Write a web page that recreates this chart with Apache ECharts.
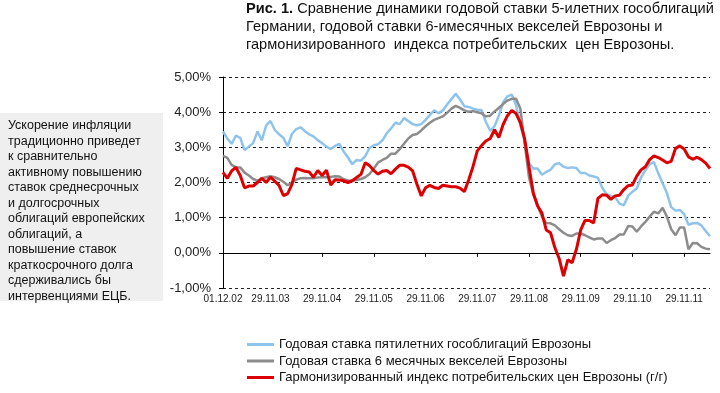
<!DOCTYPE html>
<html><head><meta charset="utf-8">
<script src="https://cdn.jsdelivr.net/npm/echarts@6/dist/echarts.min.js"></script>
<style>html,body{margin:0;padding:0;background:#fff}#c{width:720px;height:393px}</style>
</head><body><div id="c"></div>
<script>
// Tick labels of the x axis and the category index each one sits on
const tickIdx = [0, 11, 23, 35, 47, 59, 71, 83, 95, 107];
const tickLabels = ['01.12.02','29.11.03','29.11.04','29.11.05','29.11.06','29.11.07','29.11.08','29.11.09','29.11.10','29.11.11'];
const yTicks = [-1, 0, 1, 2, 3, 4, 5];

const seriesNames = [
  'Годовая ставка пятилетних гособлигаций Еврозоны',
  'Годовая ставка 6 месячных векселей Еврозоны',
  'Гармонизированный индекс потребительских цен Еврозоны (г/г)'
];

// 5-year government bond yield (light blue)
const bond5y = [3.45,3.25,3.10,3.33,3.27,2.92,3.02,3.12,3.45,3.20,3.62,3.75,3.50,3.37,3.27,3.03,3.38,3.52,3.57,3.46,
3.37,3.31,3.20,3.12,3.02,2.95,3.04,3.10,2.88,2.71,2.52,2.64,2.62,2.75,2.98,3.06,3.09,3.20,3.40,3.54,
3.70,3.66,3.83,3.75,3.66,3.63,3.66,3.78,3.92,4.05,3.97,4.05,4.22,4.37,4.52,4.36,4.17,4.15,4.10,4.07,
4.06,3.72,3.47,3.60,3.90,4.28,4.45,4.50,4.20,3.62,3.20,2.55,2.40,2.40,2.22,2.30,2.36,2.52,2.55,2.45,
2.41,2.43,2.41,2.27,2.27,2.20,2.17,2.13,1.85,1.67,1.62,1.58,1.40,1.35,1.62,1.74,1.83,2.14,2.35,2.52,
2.58,2.26,1.98,1.70,1.30,1.20,1.22,1.10,0.80,0.84,0.85,0.78,0.62,0.47];

// 6-month bills yield (grey)
const bill6m = [2.76,2.70,2.50,2.43,2.43,2.28,2.20,2.10,2.05,2.12,2.15,2.18,2.15,2.10,2.02,1.92,2.00,2.08,2.12,2.13,
2.12,2.12,2.14,2.15,2.15,2.16,2.18,2.17,2.09,2.06,2.05,2.07,2.10,2.15,2.24,2.40,2.57,2.64,2.70,2.82,
2.82,2.95,3.10,3.25,3.35,3.38,3.48,3.60,3.70,3.78,3.83,3.88,3.98,4.10,4.18,4.12,4.05,4.01,4.03,4.00,
3.97,3.88,3.90,4.02,4.12,4.23,4.33,4.38,4.38,4.10,3.10,2.15,1.65,1.35,1.03,0.85,0.84,0.78,0.67,0.57,
0.50,0.48,0.55,0.55,0.50,0.44,0.38,0.41,0.41,0.28,0.36,0.42,0.52,0.52,0.76,0.75,0.60,0.75,0.88,1.03,
1.17,1.12,1.28,1.03,0.67,0.50,0.72,0.72,0.10,0.28,0.27,0.17,0.12,0.10];

// HICP y/y (red)
const hicp = [2.29,2.12,2.33,2.43,2.20,1.85,1.90,1.90,2.00,2.12,2.00,2.15,2.04,1.92,1.63,1.68,1.95,2.40,2.36,2.32,
2.30,2.15,2.34,2.20,2.35,1.93,2.08,2.07,2.05,2.00,2.05,2.14,2.23,2.56,2.48,2.34,2.24,2.32,2.34,2.25,
2.38,2.49,2.49,2.44,2.33,1.95,1.62,1.85,1.92,1.86,1.83,1.92,1.90,1.88,1.88,1.84,1.74,2.07,2.45,2.90,
3.05,3.18,3.25,3.50,3.28,3.65,3.90,4.05,3.96,3.70,3.24,2.45,1.70,1.33,1.13,0.65,0.57,0.15,-0.16,-0.66,
-0.20,-0.28,0.10,0.65,0.92,0.92,0.85,1.55,1.65,1.64,1.52,1.62,1.64,1.80,1.91,1.93,2.18,2.36,2.45,2.65,
2.76,2.71,2.64,2.56,2.60,2.97,3.04,2.95,2.73,2.66,2.72,2.65,2.55,2.40];

const categories = bond5y.map((v, i) => {
  const k = tickIdx.indexOf(i);
  return k >= 0 ? tickLabels[k] : ('m' + i);
});
const showTick = (i) => tickIdx.indexOf(i) >= 0;

const FONT = '"Liberation Sans", Arial, sans-serif';
const sideText = 'Ускорение инфляции\nтрадиционно приведет\nк сравнительно\nактивному повышению\nставок среднесрочных\nи долгосрочных\nоблигаций европейских\nоблигаций, а\nповышение ставок\nкраткосрочного долга\nсдерживались бы\nинтервенциями ЕЦБ.';

const chart = echarts.init(document.getElementById('c'), null, {renderer: 'canvas'});
chart.setOption({
  animation: false,
  backgroundColor: '#ffffff',
  textStyle: {fontFamily: FONT},
  title: {
    left: 246, top: 0, padding: 0,
    text: '{b|Рис. 1.} Сравнение динамики годовой ставки 5-илетних гособлигаций\nГермании, годовой ставки 6-имесячных векселей Еврозоны и\nгармонизированного  индекса потребительских  цен Еврозоны.',
    textStyle: {
      fontFamily: FONT, fontSize: 14.6, fontWeight: 'normal', color: '#111', lineHeight: 18,
      rich: {b: {fontFamily: FONT, fontSize: 14.6, fontWeight: 'bold', color: '#111', lineHeight: 18}}
    }
  },
  graphic: [
    {type: 'rect', left: 0, top: 113, shape: {width: 163, height: 188}, style: {fill: '#efefef'}, z: 0},
    {type: 'text', left: 8, top: 118, style: {text: sideText, font: '12.5px ' + FONT, fill: '#111', lineHeight: 15.5}, z: 1}
  ],
  legend: {
    orient: 'vertical', left: 247, top: 338, height: 80, padding: 0,
    itemWidth: 27, itemHeight: 3, itemGap: 3.5, icon: 'rect',
    textStyle: {fontFamily: FONT, fontSize: 13, color: '#111'},
    data: seriesNames
  },
  grid: {left: 223, right: 10, top: 77, bottom: 105},
  xAxis: {
    type: 'category', data: categories, boundaryGap: false,
    axisLine: {lineStyle: {color: '#000', width: 1}},
    axisTick: {show: true, interval: showTick, length: 4, lineStyle: {color: '#000'}},
    axisLabel: {interval: showTick, margin: 6, fontSize: 10, color: '#222', fontFamily: FONT},
    splitLine: {show: false}
  },
  yAxis: {
    type: 'value', min: yTicks[0], max: yTicks[yTicks.length - 1], interval: 1,
    axisLine: {show: true, lineStyle: {color: '#000', width: 1}},
    axisTick: {show: true, length: 4, lineStyle: {color: '#000'}},
    axisLabel: {margin: 12, fontSize: 13, color: '#222', fontFamily: FONT,
      formatter: v => v.toFixed(2).replace('.', ',') + '%'},
    splitLine: {show: true, lineStyle: {color: '#222', type: [3, 3], width: 1}}
  },
  series: [
    {name: seriesNames[0], type: 'line', data: bond5y, showSymbol: false, color: '#8ec4ec',
      lineStyle: {width: 2.5, color: '#8ec4ec'}, z: 2},
    {name: seriesNames[1], type: 'line', data: bill6m, showSymbol: false, color: '#8c8c8c',
      lineStyle: {width: 2.5, color: '#8c8c8c'}, z: 3},
    {name: seriesNames[2], type: 'line', data: hicp, showSymbol: false, color: '#dd0000',
      lineStyle: {width: 3, color: '#dd0000'}, z: 4}
  ]
});
</script></body></html>
